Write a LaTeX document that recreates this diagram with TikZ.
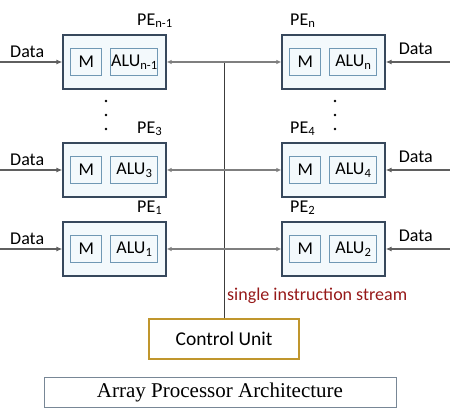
\documentclass[tikz,border=0pt]{standalone}
\usepackage{fontspec}
\setmainfont{Carlito}
\newfontfamily\titlefont{Liberation Serif}
\usetikzlibrary{arrows.meta,positioning}
\definecolor{peedge}{RGB}{55,72,92}
\definecolor{pefill}{RGB}{243,249,252}
\definecolor{inedge}{RGB}{112,152,180}
\definecolor{wire}{RGB}{95,95,95}
\definecolor{bus}{RGB}{60,60,60}
\definecolor{cuedge}{RGB}{192,150,45}
\definecolor{streamred}{RGB}{150,25,25}
\definecolor{titleedge}{RGB}{120,135,150}

\begin{document}
\begin{tikzpicture}[x=1pt, y=-1pt,
  pe/.style={draw=peedge, line width=1.2pt, fill=pefill, minimum width=103pt, minimum height=54pt, inner sep=0pt},
  unit/.style={draw=inedge, line width=1pt, minimum height=27pt, inner sep=0pt, font=\fontsize{18}{18}\selectfont},
  lbl/.style={inner sep=0pt, font=\fontsize{18}{18}\selectfont},
  arrow/.style={-{Latex[length=6pt,width=5pt]}, draw=wire, line width=1.6pt},
  both/.style={{Latex[length=5pt,width=4.5pt]}-{Latex[length=5pt,width=4.5pt]}, draw=wire!80, line width=1.1pt},
  ctrl/.style={draw=cuedge, line width=1.8pt, fill=white, minimum width=150pt, minimum height=40pt, font=\fontsize{19.5}{19.5}\selectfont},
  caption/.style={draw=titleedge, line width=0.8pt, minimum width=352pt, minimum height=30pt, font=\titlefont\fontsize{21}{21}\selectfont}
]
\useasboundingbox (0,0) rectangle (450,411);

% bus and control
\node[ctrl] (cu) at (224,339) {Control Unit};
\node[caption] (title) at (220,392) {Array Processor Architecture};
\node[lbl, anchor=base west, text=streamred] (stream) at (227,301) {single instruction stream};
\coordinate (bustop) at (224,62);
\draw[bus, line width=0.9pt] (cu.north) -- (bustop);

% processing elements: name / x / y / subscript
\foreach \nm/\x/\y/\sub in {pen1/114.5/62/n-1, pen/333.5/62/n, pe3/114.5/170/3, pe4/333.5/170/4, pe1/114.5/249/1, pe2/333.5/249/2}{
  \node[pe] (\nm) at (\x,\y) {};
  \node[unit, minimum width=31pt, anchor=west] (m\nm) at ([xshift=8pt]\nm.west) {M};
  \node[unit, minimum width=47pt, right=8pt of m\nm] (alu\nm) {ALU\textsubscript{\sub}};
}
\foreach \nm/\x/\sub in {pen1/137/n-1, pe3/137/3, pe1/137/1, pen/290/n, pe4/290/4, pe2/290/2}
  \node[lbl, anchor=base west] (lab\nm) at ([yshift=9pt]\nm.north -| \x,0) {PE\textsubscript{\sub}};

% links between the two columns
\draw[both] (pen1) -- (pen);
\draw[both] (pe3) -- (pe4);
\draw[both] (pe1) -- (pe2);

% data inputs
\foreach \l/\r/\y in {pen1/pen/62, pe3/pe4/170, pe1/pe2/249}{
  \coordinate (inl\l) at (0,\y);
  \coordinate (inr\r) at (450,\y);
  \node[lbl, anchor=base west] (datal\l) at (10,\y-4) {Data};
  \node[lbl, anchor=base east] (datar\r) at (433,\y-7) {Data};
  \draw[arrow] (inl\l) -- (\l);
  \draw[arrow] (inr\r) -- (\r);
}

% dots between rows
\foreach \y in {101,115,129}{
  \fill (106,\y) circle (1.4pt);
  \fill (335,\y) circle (1.4pt);
}
\end{tikzpicture}
\end{document}
